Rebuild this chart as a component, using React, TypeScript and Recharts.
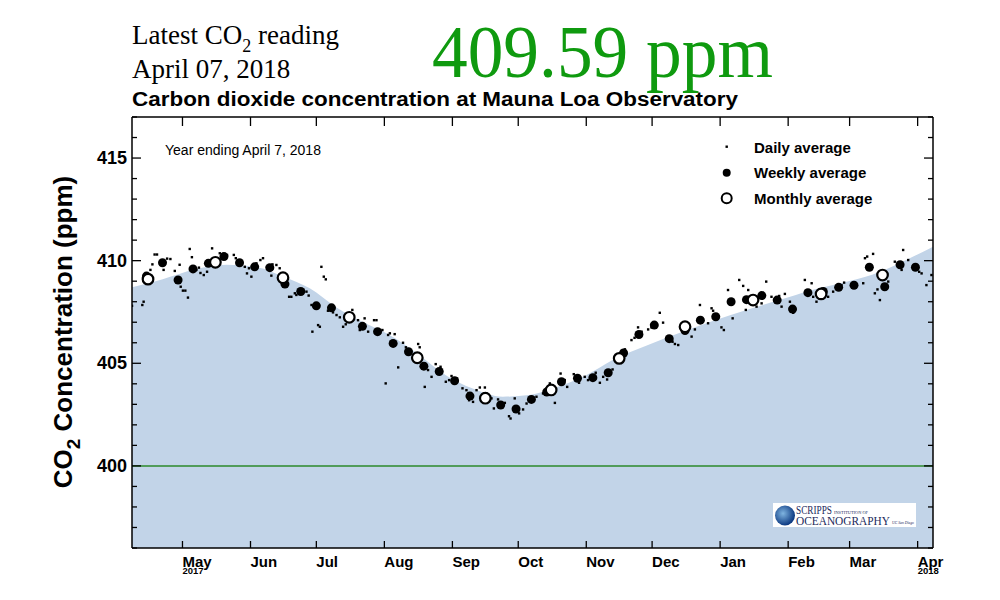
import { ComposedChart, Area, Scatter, XAxis, YAxis, ReferenceLine } from 'recharts';

// x values are days counted from April 8, 2017
const monthTicks = [23, 54, 84, 115, 146, 176, 207, 237, 268, 299, 327, 358];
const monthLabels = ['May', 'Jun', 'Jul', 'Aug', 'Sep', 'Oct', 'Nov', 'Dec', 'Jan', 'Feb', 'Mar', 'Apr'];
const yearLabels: Record<string, string> = { May: '2017', Apr: '2018' };
const yTicks = [396, 397, 398, 399, 400, 401, 402, 403, 404, 405, 406, 407, 408, 409, 410, 411, 412, 413, 414, 415, 416, 417];

// smooth seasonal fit (shaded)
const curveDays = [0, 14, 29, 43, 57, 69, 81, 93, 105, 117, 130, 143, 155, 169, 181, 193, 207, 219, 234, 250, 265, 280, 295, 310, 326, 341, 356, 365];
const curvePpm = [408.7, 409.1, 409.58, 409.8, 409.68, 409.22, 408.65, 407.73, 407.02, 406.4, 405.48, 404.42, 403.78, 403.37, 403.45, 403.82, 404.42, 405.16, 405.84, 406.5, 407.07, 407.6, 408.08, 408.57, 408.98, 409.46, 410.2, 410.68];

const monthlyDays = [7.3, 38, 68.8, 99, 130, 161, 191, 222, 252, 283, 314, 342];
const monthlyPpm = [409.1, 409.92, 409.17, 407.24, 405.27, 403.3, 403.7, 405.24, 406.78, 408.08, 408.38, 409.3];

const weeklyDays = [6.6, 13.9, 21, 27.8, 34.8, 41.9, 49, 55.9, 62.8, 69.7, 76.9, 84, 90.9, 98.5, 105, 111.9, 119, 126, 133, 140, 147, 154, 161, 168, 175, 182, 189, 195.7, 203, 210, 217, 224, 231, 238, 244.8, 252, 259, 266, 273, 280, 287, 294, 301, 308, 315, 322, 329, 336, 343, 350, 357];
const weeklyPpm = [409.25, 409.9, 409.06, 409.6, 409.87, 410.2, 409.9, 409.7, 409.66, 408.86, 408.5, 407.8, 407.7, 407.2, 406.8, 406.54, 405.97, 405.56, 404.86, 404.6, 404.15, 403.4, 403.38, 402.97, 402.77, 403.24, 403.6, 404.1, 404.27, 404.3, 404.54, 405.5, 406.4, 406.86, 406.2, 406.6, 407.1, 407.27, 408.0, 408.1, 408.3, 408.08, 407.64, 408.44, 408.5, 408.7, 408.8, 409.68, 408.73, 409.8, 409.68];

const dailyDays = [0, 4.7, 5.3, 6.6, 8.4, 9.3, 10.3, 11.4, 13, 14.4, 16, 17.5, 19.5, 21.7, 22.2, 23.2, 24.3, 25.5, 26.3, 27.3, 29.3, 30.5, 31.2, 32.7, 34.2, 35.1, 36.5, 40, 41.2, 43.3, 46.4, 47.3, 51.4, 52.4, 53.3, 54.4, 56.7, 58.5, 59.7, 61.5, 63.5, 64, 65.8, 67.3, 70, 71.6, 72.6, 74.2, 74.9, 75.7, 78, 79.5, 80.5, 81.8, 82.2, 84.8, 85.6, 86.3, 87.4, 88.3, 89.3, 89.8, 91.6, 93.2, 94.7, 96.2, 97.4, 100.4, 103, 103.8, 106, 107.6, 110.3, 111.4, 114.1, 115.6, 116.7, 117.5, 119.7, 121.3, 123.5, 124.8, 126.3, 130.4, 131.1, 133.4, 134.9, 136.5, 138.4, 140.6, 143, 144.5, 145.6, 148.1, 150.6, 152.4, 153.3, 153.6, 155.4, 157, 158.5, 160.8, 163.8, 164.9, 166.8, 169.9, 171.8, 172.5, 174.4, 176.4, 178.2, 179.8, 181, 184.3, 187.3, 190.4, 192.7, 195.3, 197.2, 198.3, 201.3, 202.2, 203.7, 206.3, 207.8, 211.3, 213.2, 214.7, 216.5, 219, 224.6, 227.6, 229, 230.6, 232.2, 235.2, 236.7, 240.5, 242, 246.3, 247.4, 248.9, 255, 256.5, 258.8, 262.5, 264.1, 264.8, 268.6, 269.7, 271.6, 273.7, 276.7, 278.5, 279.7, 280.8, 284.6, 286.9, 289, 291.4, 294.9, 296, 297.5, 299.8, 301.3, 306.6, 309.7, 310.4, 311.9, 317.2, 319.5, 323.3, 324.5, 333.2, 334, 335, 337.7, 338.5, 339.7, 340.8, 344.6, 347.6, 350.7, 351.4, 353.7, 358.7, 359.8, 362, 364.3];
const dailyPpm = [407.8, 407.84, 408.0, 409.3, 409.55, 409.82, 410.3, 410.3, 409.9, 409.55, 410.1, 410.08, 409.5, 409.8, 408.73, 408.54, 408.54, 408.2, 410.57, 410.17, 409.55, 409.66, 409.4, 409.3, 409.46, 409.95, 410.6, 410.36, 410.3, 410.28, 410.28, 410.12, 409.7, 409.38, 409.63, 409.22, 409.87, 410.03, 410.12, 409.7, 409.27, 409.82, 409.79, 409.63, 408.85, 408.24, 408.24, 408.41, 408.33, 408.57, 408.57, 408.49, 408.3, 407.84, 406.54, 406.86, 406.78, 409.7, 409.22, 409.09, 407.56, 407.6, 407.48, 407.35, 407.24, 406.78, 406.9, 407.6, 407.1, 406.62, 407.19, 406.54, 407.1, 407.1, 406.62, 404.02, 406.38, 406.46, 406.42, 404.8, 406.0, 405.78, 405.51, 405.94, 405.78, 403.85, 404.67, 404.34, 404.96, 404.83, 404.1, 404.18, 404.38, 404.26, 403.78, 403.69, 403.53, 403.2, 403.12, 403.69, 403.82, 403.82, 403.29, 402.8, 403.24, 403.07, 402.42, 402.31, 403.29, 402.56, 402.75, 403.04, 403.17, 403.37, 403.53, 404.02, 403.07, 404.5, 404.18, 403.85, 404.47, 404.18, 404.05, 404.34, 404.18, 404.54, 404.05, 404.34, 404.21, 404.7, 405.68, 406.13, 406.24, 406.75, 406.54, 406.65, 406.75, 407.46, 406.98, 406.05, 405.94, 405.89, 406.3, 406.65, 407.84, 406.95, 407.68, 407.56, 406.75, 406.62, 408.57, 407.19, 409.06, 408.77, 407.6, 408.57, 407.76, 407.92, 408.98, 408.24, 408.28, 407.76, 408.38, 408.0, 407.46, 409.06, 408.9, 408.24, 408.0, 408.24, 408.49, 408.81, 408.93, 408.9, 410.12, 410.2, 410.33, 408.41, 408.6, 408.08, 408.98, 409.95, 409.55, 410.52, 410.03, 409.46, 409.38, 408.81, 409.3];

const pairs = (days: number[], vals: number[]) => days.map((d, i) => ({ day: d, ppm: vals[i] }));
const curveData = pairs(curveDays, curvePpm);
const monthlyData = pairs(monthlyDays, monthlyPpm);
const weeklyData = pairs(weeklyDays, weeklyPpm);
const dailyData = pairs(dailyDays, dailyPpm);

const SANS = '"Liberation Sans", Arial, Helvetica, sans-serif';
const SERIF = '"Liberation Serif", "Times New Roman", serif';

const BottomTick = (p: any) => {
  const label = monthLabels[monthTicks.indexOf(p.payload.value)];
  return (
    <g>
      <line x1={p.x} x2={p.x} y1={p.y} y2={p.y - 7} stroke="#000" strokeWidth={1.3} />
      <text x={p.x} y={p.y + 19} fontFamily={SANS} fontWeight="bold" fontSize={15} fill="#000">{label}</text>
      {yearLabels[label] && (
        <text x={p.x} y={p.y + 26} fontFamily={SANS} fontWeight="bold" fontSize={9.5} fill="#000">{yearLabels[label]}</text>
      )}
    </g>
  );
};

const TopTick = (p: any) => (
  <line x1={p.x} x2={p.x} y1={p.y} y2={p.y + 9} stroke="#000" strokeWidth={1.3} />
);

const LeftTick = (p: any) => {
  const v = p.payload.value;
  const major = v % 5 === 0;
  return (
    <g>
      <line x1={p.x} x2={p.x + (major ? 9 : 5)} y1={p.y} y2={p.y} stroke="#000" strokeWidth={1.3} />
      {major && (
        <text x={p.x - 5} y={p.y + 6} textAnchor="end" fontFamily={SANS} fontWeight="bold" fontSize={18} fill="#000">{v}</text>
      )}
    </g>
  );
};

const RightTick = (p: any) => {
  const major = p.payload.value % 5 === 0;
  return <line x1={p.x} x2={p.x - (major ? 9 : 5)} y1={p.y} y2={p.y} stroke="#000" strokeWidth={1.3} />;
};

const axisLine = { stroke: '#000', strokeWidth: 1.5 };

export default function App() {
  return (
    <div style={{ position: 'absolute', left: 0, top: 0, width: 1000, height: 600, background: '#fff' }}>
      <ComposedChart width={1000} height={600} data={curveData} margin={{ top: 107, right: 57, bottom: 22, left: 92 }}>
        <XAxis dataKey="day" type="number" domain={[0, 365]} allowDataOverflow ticks={monthTicks} interval={0}
          height={30} tickSize={0} tickMargin={0} tickLine={false} axisLine={axisLine} tick={BottomTick} />
        <XAxis xAxisId="top" orientation="top" dataKey="day" type="number" domain={[0, 365]} allowDataOverflow ticks={monthTicks}
          interval={0} height={10} tickSize={0} tickMargin={0} tickLine={false} axisLine={axisLine} tick={TopTick} />
        <YAxis dataKey="ppm" type="number" domain={[396, 417]} allowDataOverflow ticks={yTicks} interval={0}
          width={40} tickSize={0} tickMargin={0} tickLine={false} axisLine={axisLine} tick={LeftTick} />
        <YAxis yAxisId="right" orientation="right" dataKey="ppm" type="number" domain={[396, 417]} allowDataOverflow ticks={yTicks}
          interval={0} width={10} tickSize={0} tickMargin={0} tickLine={false} axisLine={axisLine} tick={RightTick} />
        <Area type="monotone" dataKey="ppm" stroke="none" fill="#c2d4e8" fillOpacity={1} isAnimationActive={false} />
        <ReferenceLine y={400} stroke="#2b8a2b" strokeWidth={1.5} />
        <Scatter data={dailyData} isAnimationActive={false}
          shape={(p: any) => <rect x={p.cx - 1.2} y={p.cy - 1.2} width={2.4} height={2.4} fill="#000" />} />
        <Scatter data={weeklyData} isAnimationActive={false}
          shape={(p: any) => <circle cx={p.cx} cy={p.cy} r={4.5} fill="#000" />} />
        <Scatter data={monthlyData} isAnimationActive={false}
          shape={(p: any) => <circle cx={p.cx} cy={p.cy} r={5.3} fill="#fff" stroke="#000" strokeWidth={2.2} />} />
      </ComposedChart>

      <svg width={1000} height={600} style={{ position: 'absolute', left: 0, top: 0, pointerEvents: 'none' }}>
        <defs>
          <radialGradient id="globe" cx="40%" cy="40%" r="60%">
            <stop offset="0%" stopColor="#7fb4e0" />
            <stop offset="100%" stopColor="#0d3a82" />
          </radialGradient>
        </defs>
        <text x={132} y={44} fontFamily={SERIF} fontSize={27} fill="#000">
          Latest CO<tspan fontSize={18} dy={8}>2</tspan><tspan dy={-8}> reading</tspan>
        </text>
        <text x={132} y={78} fontFamily={SERIF} fontSize={27} fill="#000">April 07, 2018</text>
        <text x={432} y={77} fontFamily={SERIF} fontSize={75} fill="#0f9a0f" textLength={341} lengthAdjust="spacingAndGlyphs">409.59 ppm</text>
        <text x={132} y={106} fontFamily={SANS} fontWeight="bold" fontSize={20} fill="#000" textLength={606} lengthAdjust="spacingAndGlyphs">
          Carbon dioxide concentration at Mauna Loa Observatory
        </text>

        <text transform="translate(72,332) rotate(-90)" textAnchor="middle" fontFamily={SANS} fontWeight="bold" fontSize={26} fill="#000">
          CO<tspan fontSize={19} dy={8}>2</tspan><tspan dy={-8}> Concentration (ppm)</tspan>
        </text>

        <text x={165} y={155} fontFamily={SANS} fontSize={14} fill="#000">Year ending April 7, 2018</text>

        <rect x={725.5} y={145.5} width={2.4} height={2.4} fill="#000" />
        <circle cx={726.7} cy={172.7} r={4} fill="#000" />
        <circle cx={726.7} cy={198.3} r={5} fill="#fff" stroke="#000" strokeWidth={2} />
        <text x={754} y={153} fontFamily={SANS} fontWeight="bold" fontSize={15} fill="#000">Daily average</text>
        <text x={754} y={178} fontFamily={SANS} fontWeight="bold" fontSize={15} fill="#000">Weekly average</text>
        <text x={754} y={204} fontFamily={SANS} fontWeight="bold" fontSize={15} fill="#000">Monthly average</text>

        <rect x={773} y={503} width={143} height={24} fill="#fff" />
        <circle cx={785} cy={515.5} r={10} fill="url(#globe)" />
        <text x={796} y={514} fontFamily={SERIF} fontSize={12} fill="#1b2a5c" textLength={36} lengthAdjust="spacingAndGlyphs">SCRIPPS</text>
        <text x={834} y={513.5} fontFamily={SERIF} fontSize={4.5} fill="#1b2a5c" textLength={34} lengthAdjust="spacingAndGlyphs">INSTITUTION OF</text>
        <text x={796} y={524.5} fontFamily={SERIF} fontSize={12} fill="#1b2a5c" textLength={94} lengthAdjust="spacingAndGlyphs">OCEANOGRAPHY</text>
        <text x={892} y={524} fontFamily={SERIF} fontStyle="italic" fontSize={4} fill="#1b2a5c" textLength={22} lengthAdjust="spacingAndGlyphs">UC San Diego</text>
      </svg>
    </div>
  );
}
